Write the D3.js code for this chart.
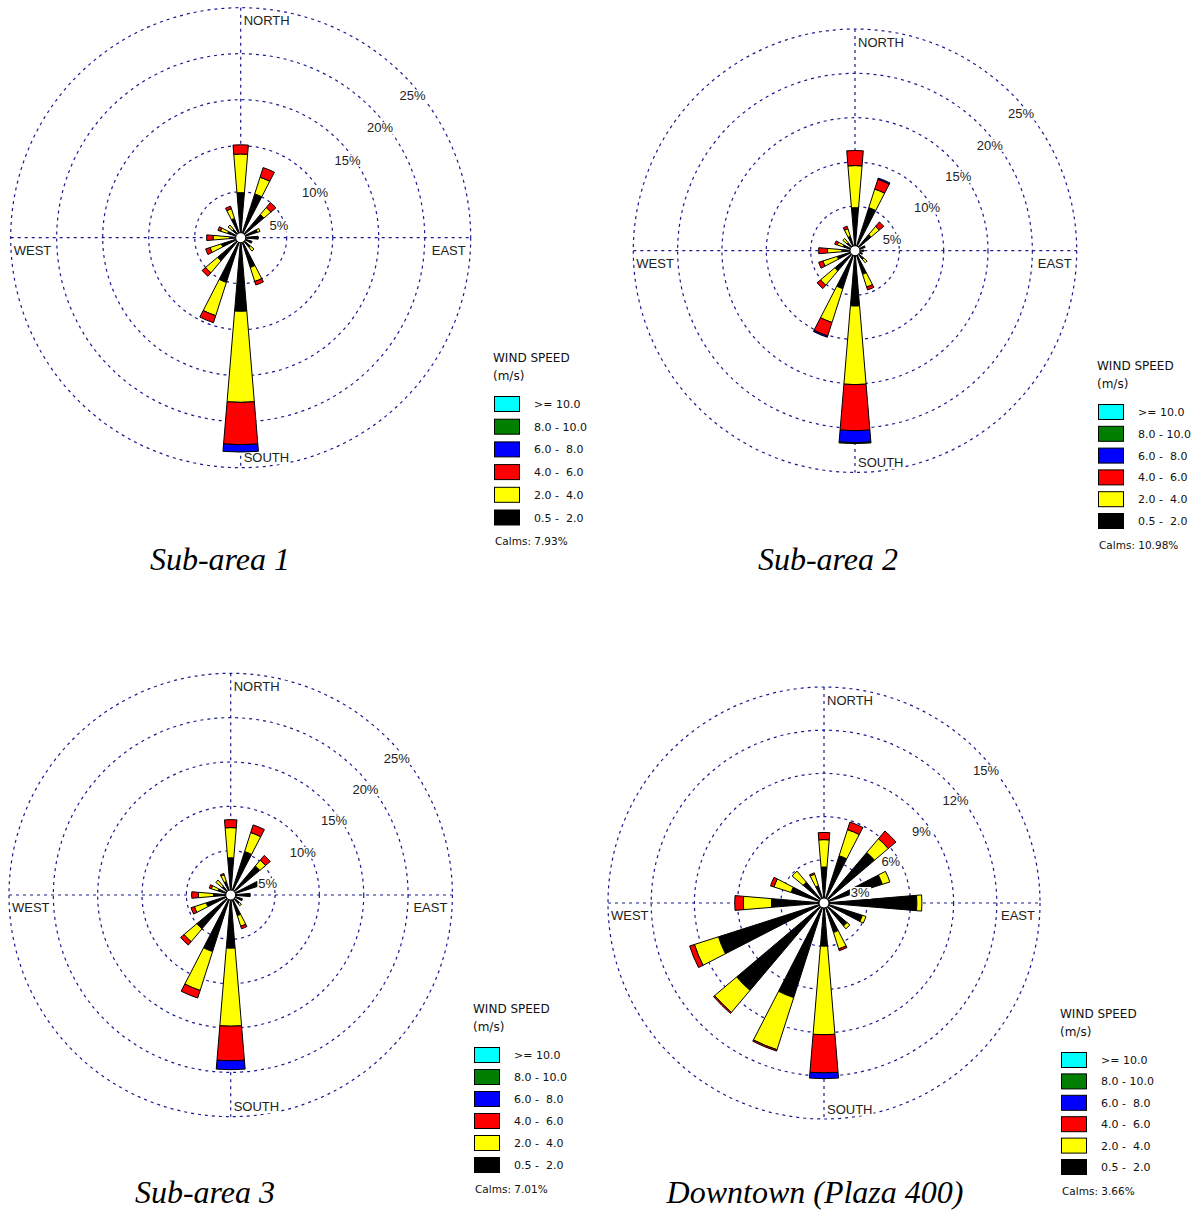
<!DOCTYPE html>
<html>
<head>
<meta charset="utf-8">
<script src="https://cdn.jsdelivr.net/npm/d3@7"></script>
<style>
  body { margin: 0; background: #fff; }
  svg { display: block; }
</style>
</head>
<body>
<svg id="chart" width="1197" height="1213"></svg>
<script>
// 16 compass sectors, clockwise from north
const directions = ["N", "NNE", "NE", "ENE", "E", "ESE", "SE", "SSE",
                    "S", "SSW", "SW", "WSW", "W", "WNW", "NW", "NNW"];

// wind speed classes (m/s), lowest first
const speedClasses = ["0.5 -  2.0", "2.0 -  4.0", "4.0 -  6.0", "6.0 -  8.0", "8.0 - 10.0", ">= 10.0"];
const speedColors = ["#000000", "#ffff00", "#ff0000", "#0000ff", "#007f00", "#00ffff"];

// frequency (%) per direction, one column per speed class
const subArea1 = [
  [4.9, 4.2, 1.0], [5.0, 1.9, 1.1], [3.3, 1.0, 0.7], [1.9, 0.3], [1.9], [1.3], [1.4, 0.5], [3.4, 1.6, 0.4],
  [8.0, 9.9, 4.6, 0.8], [5.1, 3.8, 0.8], [3.3, 1.7, 0.5], [2.2, 1.3, 0.5], [1.2, 1.8, 0.7], [1.5, 0.8, 0.3], [1.2, 0.6], [2.2, 1.1, 0.3]
];
const subArea2 = [
  [4.85, 4.75, 1.7], [5.1, 2.2, 1.15, 0.15], [2.4, 1.2, 0.65], [1.2], [1.0], [0.9], [1.3, 0.5], [2.8, 1.5, 0.35],
  [6.24, 8.86, 5.2, 1.35, 0.1], [4.5, 4.0, 1.6, 0.15], [3.0, 2.1, 0.5], [2.1, 1.7, 0.5], [1.5, 1.6, 1.0], [1.4, 0.7, 0.3], [1.2, 0.6], [1.7, 0.9, 0.3]
];
const subArea3 = [
  [4.2, 3.4, 0.9], [5.15, 2.25, 0.9], [4.3, 0.85, 0.7], [3.35], [2.2], [1.4], [1.3, 0.3], [2.45, 1.25, 0.3],
  [6.0, 8.8, 3.9, 1.0], [6.7, 4.6, 0.9], [5.0, 1.9, 0.5], [2.9, 1.4, 0.4], [1.95, 1.7, 0.75], [1.5, 0.8, 0.25], [1.3, 0.9], [1.6, 0.8, 0.15]
];
const downtown = [
  [2.5, 1.9, 0.5], [3.45, 1.9, 0.55], [4.6, 1.25, 0.7], [4.25, 0.55], [6.45, 0.35], [2.8, 0.26], [2.1, 0.25], [2.15, 1.2, 0.13],
  [3.0, 6.15, 2.65, 0.4], [6.9, 3.8, 0.1], [7.95, 2.0, 0.1], [7.7, 1.75, 0.35], [3.65, 1.95, 0.6], [2.4, 1.25, 0.25], [1.9, 1.0], [1.26, 0.84, 0.1]
];

const ringTicks25 = [5, 10, 15, 20, 25];
const ringTicks15 = [3, 6, 9, 12, 15];
const calmValues = ["7.93%", "10.98%", "7.01%", "3.66%"];
const titles = ["Sub-area 1", "Sub-area 2", "Sub-area 3", "Downtown (Plaza 400)"];

const panels = [
  { title: titles[0], values: subArea1, ticks: ringTicks25, calm: calmValues[0], cx: 240.7, cy: 237.7, R: 230, legend: [493, 358, 22.7], titlePos: [220, 570] },
  { title: titles[1], values: subArea2, ticks: ringTicks25, calm: calmValues[1], cx: 855, cy: 250.7, R: 221.7, legend: [1097, 366, 21.8], titlePos: [828, 570] },
  { title: titles[2], values: subArea3, ticks: ringTicks25, calm: calmValues[2], cx: 230.7, cy: 895, R: 221.7, legend: [473, 1009, 22], titlePos: [205, 1203] },
  { title: titles[3], values: downtown, ticks: ringTicks15, calm: calmValues[3], cx: 824, cy: 903, R: 216, legend: [1060, 1014, 21.4], titlePos: [815, 1203] }
];

const svg = d3.select("#chart");
const gridColor = "#1a1a90";
const color = d3.scaleOrdinal().domain(speedClasses).range(speedColors);
const angle = d3.scalePoint().domain(directions).range([0, 2 * Math.PI * 15 / 16]);
const halfWidth = 4.75 * Math.PI / 180;

function addBackedText(g, x, y, str, anchor, size) {
  const t = g.append("text")
    .attr("x", x).attr("y", y)
    .attr("text-anchor", anchor)
    .attr("font-family", "'Liberation Sans', Arial, sans-serif")
    .attr("font-size", size)
    .attr("fill", "#222")
    .text(str);
  const b = t.node().getBBox();
  g.insert("rect", () => t.node())
    .attr("x", b.x - 1).attr("y", b.y + 2)
    .attr("width", b.width + 2).attr("height", b.height - 3)
    .attr("fill", "#fff");
}

function drawRose(p) {
  const g = svg.append("g").attr("transform", `translate(${p.cx},${p.cy})`);
  const r = d3.scaleLinear().domain([0, p.ticks[p.ticks.length - 1]]).range([0, p.R]);

  // dashed rings
  g.selectAll("circle.ring").data(p.ticks).join("circle")
    .attr("class", "ring")
    .attr("r", d => r(d))
    .attr("fill", "none")
    .attr("stroke", gridColor)
    .attr("stroke-width", 1.2)
    .attr("stroke-dasharray", "3,4");

  // cross hairs
  g.append("line").attr("x1", 0).attr("x2", 0).attr("y1", -p.R).attr("y2", p.R);
  g.append("line").attr("x1", -p.R).attr("x2", p.R).attr("y1", 0).attr("y2", 0);
  g.selectAll("line")
    .attr("stroke", gridColor).attr("stroke-width", 1.2).attr("stroke-dasharray", "3,4");

  // compass labels
  addBackedText(g, 3, -p.R + 17.7, "NORTH", "start", 13);
  addBackedText(g, 3, p.R - 5.3, "SOUTH", "start", 13);
  addBackedText(g, -p.R + 3, 17.2, "WEST", "start", 13);
  addBackedText(g, p.R - 5, 17.2, "EAST", "end", 13);

  // stacked bars
  const rows = directions.map((dir, i) => {
    const row = { dir };
    speedClasses.forEach((k, j) => { row[k] = p.values[i][j] || 0; });
    return row;
  });
  const series = d3.stack().keys(speedClasses)(rows);
  const arc = d3.arc()
    .innerRadius(d => r(d[0]))
    .outerRadius(d => r(d[1]))
    .startAngle(d => angle(d.data.dir) - halfWidth)
    .endAngle(d => angle(d.data.dir) + halfWidth);

  g.selectAll("g.layer").data(series).join("g")
    .attr("class", "layer")
    .attr("fill", d => color(d.key))
    .selectAll("path")
    .data(d => d.filter(s => s[1] - s[0] > 0))
    .join("path")
    .attr("d", arc)
    .attr("stroke", "#000")
    .attr("stroke-width", 1)
    .attr("stroke-linejoin", "miter");

  // calm circle
  g.append("circle").attr("r", 5).attr("fill", "#fff").attr("stroke", "#000");

  // ring labels
  p.ticks.forEach(t => {
    const d = r(t) * Math.SQRT1_2;
    addBackedText(g, d - 3.7, -d + 24.5, t + "%", "start", 13);
  });
}

function drawLegend(p) {
  const [lx, ly, step] = p.legend;
  const lg = svg.append("g")
    .attr("transform", `translate(${lx},${ly})`)
    .attr("font-family", "'DejaVu Sans', sans-serif")
    .attr("fill", "#111");
  lg.append("text").attr("y", 4.4).attr("font-size", 12).text("WIND SPEED");
  lg.append("text").attr("y", 22.4).attr("font-size", 12).text("(m/s)");

  const items = lg.selectAll("g.item").data(speedClasses.slice().reverse()).join("g")
    .attr("class", "item")
    .attr("transform", (d, i) => `translate(0,${46 + i * step})`);
  items.append("rect")
    .attr("x", 1.5).attr("y", -7.5).attr("width", 25).attr("height", 15)
    .attr("fill", d => color(d)).attr("stroke", "#000");
  items.append("text")
    .attr("x", 41).attr("y", 4)
    .attr("font-size", 11)
    .style("white-space", "pre")
    .text(d => d);

  lg.append("text")
    .attr("x", 2).attr("y", 46 + 5 * step + 24 + 3.6)
    .attr("font-size", 10.5)
    .text("Calms: " + p.calm);
}

panels.forEach(p => {
  drawRose(p);
  drawLegend(p);
  svg.append("text")
    .attr("x", p.titlePos[0]).attr("y", p.titlePos[1])
    .attr("text-anchor", "middle")
    .attr("font-family", "'Liberation Serif', 'Times New Roman', serif")
    .attr("font-style", "italic")
    .attr("font-size", 32)
    .text(p.title);
});
</script>
</body>
</html>
